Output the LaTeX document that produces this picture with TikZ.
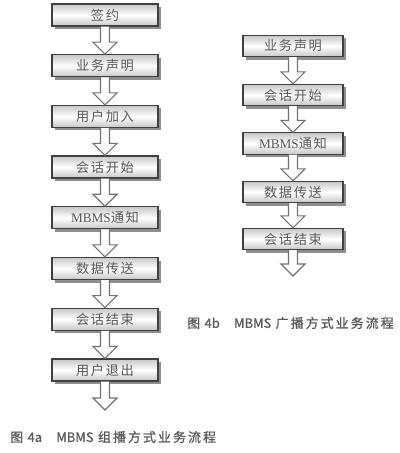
\documentclass[tikz,border=0pt]{standalone}
\usepackage{fontspec}
\usetikzlibrary{calc,shadows}
\newfontfamily\cjk[LetterSpace=12]{Noto Sans CJK SC}
\newfontfamily\latserif{Liberation Serif}
\newfontfamily\capfont[LetterSpace=16,FakeBold=1]{Noto Sans CJK SC}
\newfontfamily\caplat[FakeBold=1]{Noto Sans CJK SC}
\tikzset{
  stepbox/.style={draw=black!75, line width=0.8pt,
    top color=black!22, bottom color=black!22, middle color=white,
    drop shadow={shadow xshift=2.2pt, shadow yshift=-2.2pt, fill=black!55, opacity=0.8},
    text=black!65, font=\cjk\fontsize{9.4pt}{10pt}\selectfont, inner sep=0pt},
  boxL/.style={stepbox, minimum width=2.65cm, minimum height=0.55cm},
  boxR/.style={stepbox, minimum width=2.5cm, minimum height=0.53cm},
  arrowline/.style={draw=black!55, fill=white, line width=0.8pt, line join=miter},
  captxt/.style={text=black!65, font=\fontsize{9.2pt}{10pt}\selectfont, inner sep=0pt, anchor=west}
}
\newcommand\hollowarrow[2]{%
  \draw[arrowline] ($(#1.south)+(-4.5,0)$) -- ($(#2)+(-4.5,-12)$) -- ($(#2)+(-12,-12)$) -- (#2) -- ($(#2)+(12,-12)$) -- ($(#2)+(4.5,-12)$) -- ($(#1.south)+(4.5,0)$);}
\begin{document}
\begin{tikzpicture}[x=0.025cm,y=-0.025cm]
\useasboundingbox (0,0) rectangle (400,453);
% left column
\node[boxL] (a1) at (105,15) {签约};
\node[boxL] (a2) at (105,65.7) {业务声明};
\node[boxL] (a3) at (105,116.4) {用户加入};
\node[boxL] (a4) at (105,167) {会话开始};
\node[boxL] (a5) at (105,217.8) {{\latserif MBMS}通知};
\node[boxL] (a6) at (105,268.5) {数据传送};
\node[boxL] (a7) at (105,319.2) {会话结束};
\node[boxL] (a8) at (105,370) {用户退出};
\coordinate (aend) at (105,410);
% right column
\node[boxR] (b1) at (293,46) {业务声明};
\node[boxR] (b2) at (293,95) {会话开始};
\node[boxR] (b3) at (293,143.5) {{\latserif MBMS}通知};
\node[boxR] (b4) at (293,192) {数据传送};
\node[boxR] (b5) at (293,239) {会话结束};
\coordinate (bend) at (293,276);
% arrows
\hollowarrow{a1}{a2.north}
\hollowarrow{a2}{a3.north}
\hollowarrow{a3}{a4.north}
\hollowarrow{a4}{a5.north}
\hollowarrow{a5}{a6.north}
\hollowarrow{a6}{a7.north}
\hollowarrow{a7}{a8.north}
\hollowarrow{a8}{aend}
\hollowarrow{b1}{b2.north}
\hollowarrow{b2}{b3.north}
\hollowarrow{b3}{b4.north}
\hollowarrow{b4}{b5.north}
\hollowarrow{b5}{bend}
% captions
\node[captxt] (capb) at (187,323) {{\capfont 图} {\caplat 4b}\hspace{1.1em}{\caplat MBMS} {\capfont 广播方式业务流程}};
\node[captxt] (capa) at (10,437) {{\capfont 图} {\caplat 4a}\hspace{1.1em}{\caplat MBMS} {\capfont 组播方式业务流程}};
\end{tikzpicture}
\end{document}
